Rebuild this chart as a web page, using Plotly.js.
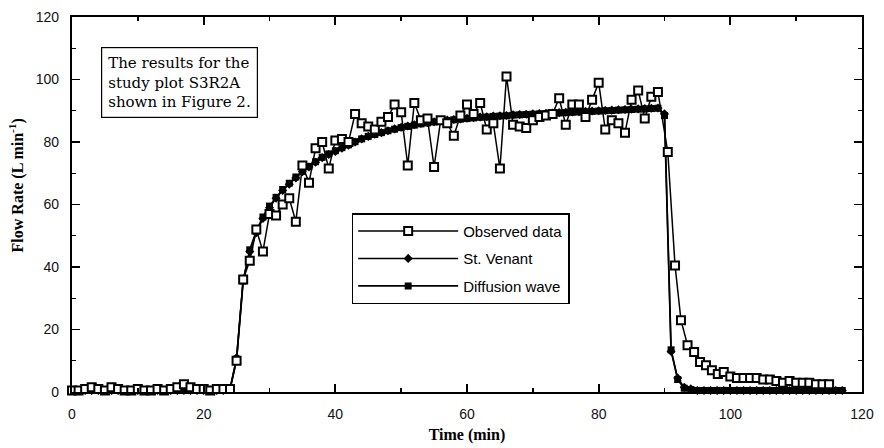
<!DOCTYPE html>
<html>
<head>
<meta charset="utf-8">
<script src="https://cdn.plot.ly/plotly-3.0.1.min.js"></script>
<style>
  html, body { margin: 0; padding: 0; background: #ffffff; }
  #chart { width: 884px; height: 448px; }
</style>
</head>
<body>
<div id="chart"></div>
<script>
// ---- Data ----
const obsTime = [
  0, 1, 2, 3, 4, 5, 6, 7, 8, 9, 10, 11, 12, 13, 14, 15, 16, 17, 18, 19, 20, 21, 22, 23, 24,
  25, 26, 27, 28, 29, 30, 31, 32, 33, 34, 35, 36, 37, 38, 39, 40, 41, 42, 43, 44, 45, 46, 47, 48, 49,
  50, 51, 52, 53, 54, 55, 56, 57, 58, 59, 60, 61, 62, 63, 64, 65, 66, 67, 68, 69, 70, 71, 72, 73, 74,
  75, 76, 77, 78, 79, 80, 81, 82, 83, 84, 85, 86, 87, 88, 89,
  90.5, 91.6, 92.5, 93.5, 94.5, 95.4, 96.3, 97.2, 98.1, 99,
  100, 101, 102, 103, 104, 105, 106, 107, 108, 109, 110, 111, 112, 113, 114, 115
];
const obsFlow = [
  0.5, 0.5, 1, 1.5, 1, 0.5, 1.5, 1, 0.5, 0.5, 1, 0.5, 0.5, 1, 0.5, 1, 1.5, 2.5, 1.5, 1, 1, 0.5, 1, 1, 1,
  10, 36, 42, 52, 45, 57, 56.5, 60, 62, 54.5, 72.5, 67, 78, 80, 71.5, 80.5, 81, 80, 89, 86, 85, 84, 86.5, 88, 92,
  89.5, 72.5, 92.5, 87, 87.5, 72, 87, 86, 82, 88.5, 92, 89, 92.5, 84, 86, 71.5, 101, 85.5, 85, 84.5, 87, 88, 88.5, 89, 94,
  85.5, 92, 92, 88, 93.5, 99, 84, 87, 86, 83, 93.5, 96.5, 87.5, 94.5, 96,
  76.8, 40.5, 23, 15, 12.8, 9.6, 8.6, 7, 5.8, 6.4,
  5, 4.5, 4.5, 4.5, 4.5, 4, 4, 3.5, 3, 3.5, 3, 3, 3, 2.5, 2.5, 2.5
];

const modelTime = [
  0, 1, 2, 3, 4, 5, 6, 7, 8, 9, 10, 11, 12, 13, 14, 15, 16, 17, 18, 19, 20, 21, 22, 23, 24,
  25, 26, 27, 28, 29, 30, 31, 32, 33, 34, 35, 36, 37, 38, 39, 40, 41, 42, 43, 44, 45, 46, 47, 48, 49,
  50, 51, 52, 53, 54, 55, 56, 57, 58, 59, 60, 61, 62, 63, 64, 65, 66, 67, 68, 69, 70, 71, 72, 73, 74,
  75, 76, 77, 78, 79, 80, 81, 82, 83, 84, 85, 86, 87, 88, 89, 90, 91, 92, 93, 94, 95, 96, 97, 98, 99,
  100, 101, 102, 103, 104, 105, 106, 107, 108, 109, 110, 111, 112, 113, 114, 115, 116, 117
];
const stVenantFlow = [
  0.5, 0.5, 0.5, 0.5, 0.5, 0.5, 0.5, 0.5, 0.5, 0.5, 0.5, 0.5, 0.5, 0.5, 0.5, 0.5, 0.5, 0.5, 0.5, 0.5, 0.5, 0.5, 0.5, 0.5, 1,
  11, 36, 45, 51, 55.5, 59, 62, 64.5, 66.5, 68.5, 70.5, 72, 73.5, 75, 76, 77, 78, 79, 80, 81, 81.8, 82.5, 83, 83.6, 84.2,
  84.7, 85.1, 85.5, 85.9, 86.2, 86.5, 86.8, 87, 87.2, 87.4, 87.6, 87.8, 88, 88.1, 88.3, 88.4, 88.5, 88.7, 88.8, 88.9, 89, 89.1, 89.2, 89.3, 89.4,
  89.5, 89.6, 89.7, 89.8, 89.9, 90, 90.1, 90.2, 90.3, 90.4, 90.5, 90.6, 90.7, 90.8, 90.9, 89, 13, 4.5, 1.5, 1, 0.5, 0.5, 0.5, 0.5, 0.5,
  0.5, 0.5, 0.5, 0.5, 0.5, 0.5, 0.5, 0.5, 0.5, 0.5, 0.5, 0.5, 0.5, 0.5, 0.5, 0.5, 0.5, 0.5
];
const diffusionFlow = [
  0.5, 0.5, 0.5, 0.5, 0.5, 0.5, 0.5, 0.5, 0.5, 0.5, 0.5, 0.5, 0.5, 0.5, 0.5, 0.5, 0.5, 0.5, 0.5, 0.5, 0.5, 0.5, 0.5, 0.5, 0.8,
  10.5, 35.5, 45.5, 51.5, 56, 59.5, 62.3, 64.8, 66.8, 68.8, 70.6, 72.2, 73.7, 75.1, 76.2, 77.2, 78.2, 79.1, 80.1, 81, 81.8, 82.4, 83, 83.6, 84.1,
  84.6, 85, 85.4, 85.8, 86.1, 86.4, 86.7, 86.9, 87.1, 87.3, 87.5, 87.7, 87.9, 88, 88.2, 88.3, 88.4, 88.6, 88.7, 88.8, 88.9, 89, 89.1, 89.2, 89.3,
  89.4, 89.5, 89.6, 89.7, 89.8, 89.9, 90, 90.1, 90.2, 90.3, 90.4, 90.5, 90.6, 90.7, 90.8, 88.5, 13.5, 4, 1.2, 0.8, 0.5, 0.5, 0.5, 0.5, 0.5,
  0.5, 0.5, 0.5, 0.5, 0.5, 0.5, 0.5, 0.5, 0.5, 0.5, 0.5, 0.5, 0.5, 0.5, 0.5, 0.5, 0.5, 0.5
];

const seriesNames = ["Observed data", "St. Venant", "Diffusion wave"];
const axisTicks = [0, 20, 40, 60, 80, 100, 120];
const noteLines = ["The results for the", "study plot S3R2A", "shown in Figure 2."];
const xTitle = "Time (min)";
const yTitle = "Flow Rate (L min<sup>-1</sup>)";

const traces = [
  {
    x: modelTime, y: diffusionFlow, name: seriesNames[2], legendrank: 3, legendgroup: "c",
    mode: "lines+markers", cliponaxis: false,
    line: { color: "#000", width: 1.8 },
    marker: { symbol: "square", size: 7, color: "#000" }
  },
  {
    x: modelTime, y: stVenantFlow, name: seriesNames[1], legendrank: 2, legendgroup: "b",
    mode: "lines+markers", cliponaxis: false,
    line: { color: "#000", width: 1.5 },
    marker: { symbol: "diamond", size: 7, color: "#000" }
  },
  {
    x: obsTime, y: obsFlow, name: seriesNames[0], legendrank: 1, legendgroup: "a",
    mode: "lines+markers", cliponaxis: false,
    line: { color: "#000", width: 1.5 },
    marker: { symbol: "square", size: 8, color: "#fff", line: { color: "#000", width: 2 } }
  }
];

const axisCommon = {
  range: [0, 120],
  tickvals: axisTicks,
  ticktext: axisTicks.map(String),
  ticks: "inside",
  ticklen: 8,
  tickwidth: 1.8,
  tickcolor: "#000",
  showline: true,
  linecolor: "#000",
  linewidth: 2.2,
  mirror: "ticks",
  showgrid: false,
  zeroline: false,
  fixedrange: true,
  ticklabelstandoff: 8,
  tickfont: { family: "Liberation Sans, Arial, sans-serif", size: 14, color: "#111" },
  minor: { dtick: 10, ticks: "inside", ticklen: 4, tickwidth: 1.4, tickcolor: "#000", showgrid: false }
};

const layout = {
  width: 884, height: 448,
  margin: { l: 72, r: 22, t: 17, b: 56 },
  paper_bgcolor: "#fff", plot_bgcolor: "#fff",
  showlegend: true,
  xaxis: Object.assign({}, axisCommon, {
    title: { text: xTitle, standoff: 8,
      font: { family: "Liberation Serif, Times New Roman, serif", size: 16, color: "#000", weight: "bold" } }
  }),
  yaxis: Object.assign({}, axisCommon),
  legend: {
    x: 0.354, y: 0.477, xanchor: "left", yanchor: "top",
    bgcolor: "#fff", bordercolor: "#000", borderwidth: 1.5,
    font: { family: "Liberation Sans, Arial, sans-serif", size: 15, color: "#000" },
    traceorder: "grouped", tracegroupgap: 5, itemwidth: 100
  },
  annotations: [
    {
      xref: "paper", yref: "paper", x: 0.0367, y: 0.92, xanchor: "left", yanchor: "top",
      text: noteLines.join("<br>"), align: "left", showarrow: false,
      bordercolor: "#000", borderwidth: 1.2, borderpad: 6, bgcolor: "#fff",
      font: { family: "DejaVu Serif, Liberation Serif, serif", size: 15, color: "#000" }
    },
    {
      xref: "paper", yref: "paper", x: -0.07, y: 0.55, xanchor: "center", yanchor: "middle",
      text: yTitle, textangle: -90, showarrow: false,
      font: { family: "Liberation Serif, Times New Roman, serif", size: 16, color: "#000", weight: "bold" }
    }
  ]
};

Plotly.newPlot("chart", traces, layout, { displayModeBar: false, staticPlot: true });
</script>
</body>
</html>
